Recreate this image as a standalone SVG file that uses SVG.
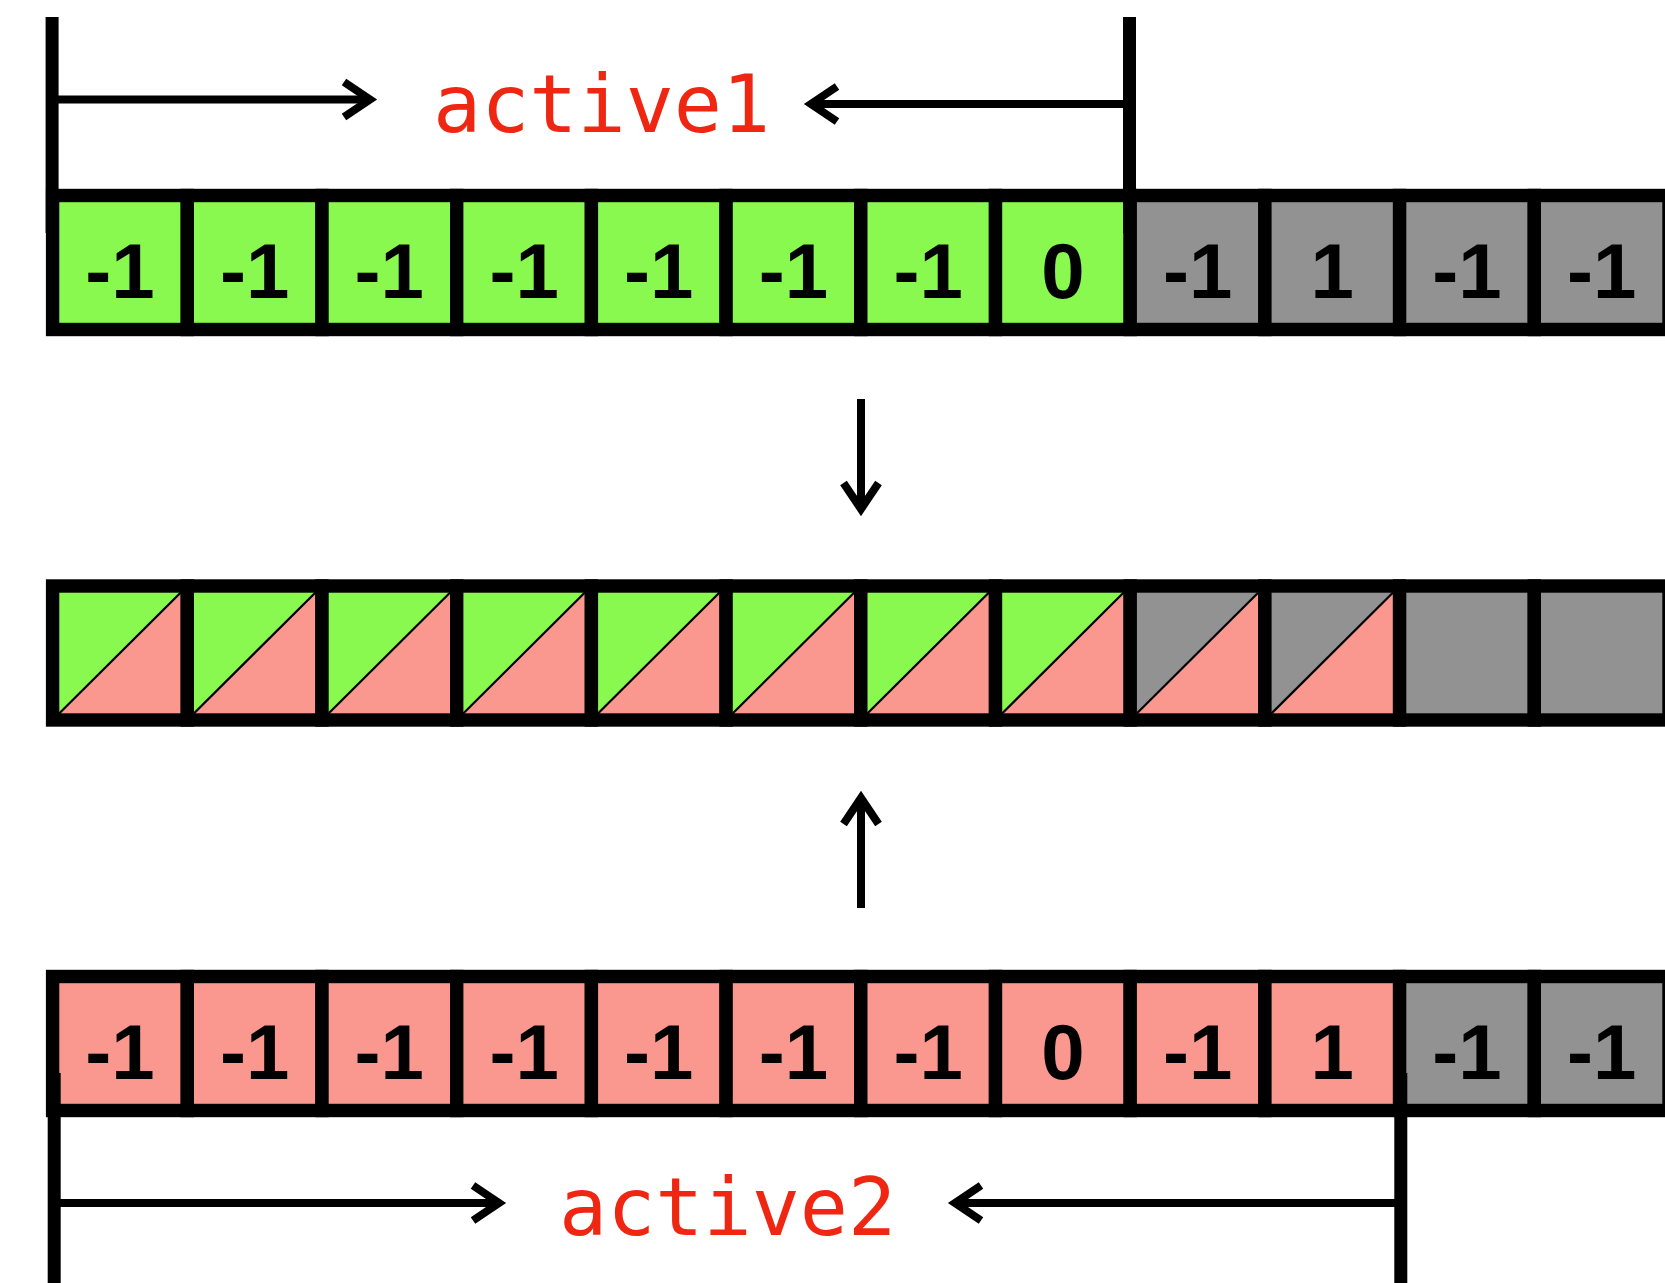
<svg xmlns="http://www.w3.org/2000/svg" width="1665" height="1283" viewBox="0 0 1665 1283">
<defs>
<style>
.cell{stroke:#000;stroke-width:13.4}
.g{fill:#89F94F}
.p{fill:#FA978E}
.k{fill:#929292}
.num{font-family:Arial,Helvetica,"Liberation Sans",sans-serif;font-weight:bold;font-size:78px;fill:#000;text-anchor:middle}
.lbl{font-family:"DejaVu Sans Mono","Liberation Mono",monospace;font-size:80px;fill:#EE2612}
.diag{stroke:#000;stroke-width:2.2}
.bar{stroke:#000;stroke-width:13;fill:none}
.ln{stroke:#000;stroke-width:8;fill:none}
.hd{stroke:#000;stroke-width:8;fill:none;stroke-linecap:butt;stroke-linejoin:miter}
</style>
</defs>
<rect width="1665" height="1283" fill="#fff"/>

<!-- Row 1 -->
<g id="row1">
<g id="r1c1"><rect class="cell g" x="52.6" y="195.5" width="134.7" height="134"/><text class="num" x="120" y="298">-1</text></g>
<g id="r1c2"><rect class="cell g" x="187.3" y="195.5" width="134.7" height="134"/><text class="num" x="254.7" y="298">-1</text></g>
<g id="r1c3"><rect class="cell g" x="322" y="195.5" width="134.7" height="134"/><text class="num" x="389.3" y="298">-1</text></g>
<g id="r1c4"><rect class="cell g" x="456.7" y="195.5" width="134.7" height="134"/><text class="num" x="524.1" y="298">-1</text></g>
<g id="r1c5"><rect class="cell g" x="591.4" y="195.5" width="134.7" height="134"/><text class="num" x="658.8" y="298">-1</text></g>
<g id="r1c6"><rect class="cell g" x="726.1" y="195.5" width="134.7" height="134"/><text class="num" x="793.4" y="298">-1</text></g>
<g id="r1c7"><rect class="cell g" x="860.8" y="195.5" width="134.7" height="134"/><text class="num" x="928.2" y="298">-1</text></g>
<g id="r1c8"><rect class="cell g" x="995.5" y="195.5" width="134.7" height="134"/><text class="num" x="1062.9" y="298">0</text></g>
<g id="r1c9"><rect class="cell k" x="1130.2" y="195.5" width="134.7" height="134"/><text class="num" x="1197.6" y="298">-1</text></g>
<g id="r1c10"><rect class="cell k" x="1264.9" y="195.5" width="134.7" height="134"/><text class="num" x="1332.2" y="298">1</text></g>
<g id="r1c11"><rect class="cell k" x="1399.6" y="195.5" width="134.7" height="134"/><text class="num" x="1467" y="298">-1</text></g>
<g id="r1c12"><rect class="cell k" x="1534.3" y="195.5" width="134.7" height="134"/><text class="num" x="1601.7" y="298">-1</text></g>
</g>

<!-- Row 2 -->
<g id="row2">
<g id="r2c1"><polygon class="g" points="52.6,586 187.3,586 52.6,720"/><polygon class="p" points="187.3,586 187.3,720 52.6,720"/><line class="diag" x1="52.6" y1="720" x2="187.3" y2="586"/><rect class="cell" fill="none" x="52.6" y="586" width="134.7" height="134"/></g>
<g id="r2c2"><polygon class="g" points="187.3,586 322,586 187.3,720"/><polygon class="p" points="322,586 322,720 187.3,720"/><line class="diag" x1="187.3" y1="720" x2="322" y2="586"/><rect class="cell" fill="none" x="187.3" y="586" width="134.7" height="134"/></g>
<g id="r2c3"><polygon class="g" points="322,586 456.7,586 322,720"/><polygon class="p" points="456.7,586 456.7,720 322,720"/><line class="diag" x1="322" y1="720" x2="456.7" y2="586"/><rect class="cell" fill="none" x="322" y="586" width="134.7" height="134"/></g>
<g id="r2c4"><polygon class="g" points="456.7,586 591.4,586 456.7,720"/><polygon class="p" points="591.4,586 591.4,720 456.7,720"/><line class="diag" x1="456.7" y1="720" x2="591.4" y2="586"/><rect class="cell" fill="none" x="456.7" y="586" width="134.7" height="134"/></g>
<g id="r2c5"><polygon class="g" points="591.4,586 726.1,586 591.4,720"/><polygon class="p" points="726.1,586 726.1,720 591.4,720"/><line class="diag" x1="591.4" y1="720" x2="726.1" y2="586"/><rect class="cell" fill="none" x="591.4" y="586" width="134.7" height="134"/></g>
<g id="r2c6"><polygon class="g" points="726.1,586 860.8,586 726.1,720"/><polygon class="p" points="860.8,586 860.8,720 726.1,720"/><line class="diag" x1="726.1" y1="720" x2="860.8" y2="586"/><rect class="cell" fill="none" x="726.1" y="586" width="134.7" height="134"/></g>
<g id="r2c7"><polygon class="g" points="860.8,586 995.5,586 860.8,720"/><polygon class="p" points="995.5,586 995.5,720 860.8,720"/><line class="diag" x1="860.8" y1="720" x2="995.5" y2="586"/><rect class="cell" fill="none" x="860.8" y="586" width="134.7" height="134"/></g>
<g id="r2c8"><polygon class="g" points="995.5,586 1130.2,586 995.5,720"/><polygon class="p" points="1130.2,586 1130.2,720 995.5,720"/><line class="diag" x1="995.5" y1="720" x2="1130.2" y2="586"/><rect class="cell" fill="none" x="995.5" y="586" width="134.7" height="134"/></g>
<g id="r2c9"><polygon class="k" points="1130.2,586 1264.9,586 1130.2,720"/><polygon class="p" points="1264.9,586 1264.9,720 1130.2,720"/><line class="diag" x1="1130.2" y1="720" x2="1264.9" y2="586"/><rect class="cell" fill="none" x="1130.2" y="586" width="134.7" height="134"/></g>
<g id="r2c10"><polygon class="k" points="1264.9,586 1399.6,586 1264.9,720"/><polygon class="p" points="1399.6,586 1399.6,720 1264.9,720"/><line class="diag" x1="1264.9" y1="720" x2="1399.6" y2="586"/><rect class="cell" fill="none" x="1264.9" y="586" width="134.7" height="134"/></g>
<g id="r2c11"><rect class="cell k" x="1399.6" y="586" width="134.7" height="134"/></g>
<g id="r2c12"><rect class="cell k" x="1534.3" y="586" width="134.7" height="134"/></g>
</g>

<!-- Row 3 -->
<g id="row3">
<g id="r3c1"><rect class="cell p" x="52.6" y="976.5" width="134.7" height="134"/><text class="num" x="120" y="1078.5">-1</text></g>
<g id="r3c2"><rect class="cell p" x="187.3" y="976.5" width="134.7" height="134"/><text class="num" x="254.7" y="1078.5">-1</text></g>
<g id="r3c3"><rect class="cell p" x="322" y="976.5" width="134.7" height="134"/><text class="num" x="389.3" y="1078.5">-1</text></g>
<g id="r3c4"><rect class="cell p" x="456.7" y="976.5" width="134.7" height="134"/><text class="num" x="524.1" y="1078.5">-1</text></g>
<g id="r3c5"><rect class="cell p" x="591.4" y="976.5" width="134.7" height="134"/><text class="num" x="658.8" y="1078.5">-1</text></g>
<g id="r3c6"><rect class="cell p" x="726.1" y="976.5" width="134.7" height="134"/><text class="num" x="793.4" y="1078.5">-1</text></g>
<g id="r3c7"><rect class="cell p" x="860.8" y="976.5" width="134.7" height="134"/><text class="num" x="928.2" y="1078.5">-1</text></g>
<g id="r3c8"><rect class="cell p" x="995.5" y="976.5" width="134.7" height="134"/><text class="num" x="1062.9" y="1078.5">0</text></g>
<g id="r3c9"><rect class="cell p" x="1130.2" y="976.5" width="134.7" height="134"/><text class="num" x="1197.6" y="1078.5">-1</text></g>
<g id="r3c10"><rect class="cell p" x="1264.9" y="976.5" width="134.7" height="134"/><text class="num" x="1332.2" y="1078.5">1</text></g>
<g id="r3c11"><rect class="cell k" x="1399.6" y="976.5" width="134.7" height="134"/><text class="num" x="1467" y="1078.5">-1</text></g>
<g id="r3c12"><rect class="cell k" x="1534.3" y="976.5" width="134.7" height="134"/><text class="num" x="1601.7" y="1078.5">-1</text></g>
</g>

<!-- Labels -->
<g id="label-active1"><text class="lbl" x="433" y="131.5">active1</text></g>
<g id="label-active2"><text class="lbl" x="559" y="1235">active2</text></g>

<!-- Connectors -->
<g id="connectors">
<line class="bar" x1="52.1" y1="17" x2="52.1" y2="233"/>
<line class="bar" x1="1129.5" y1="17" x2="1129.5" y2="233"/>
<line class="ln" x1="58" y1="99.5" x2="369" y2="99.5"/>
<polyline class="hd" points="344,82 370,99.5 344,117"/>
<line class="ln" x1="1123" y1="104" x2="812" y2="104"/>
<polyline class="hd" points="837,86.5 811,104 837,121.5"/>

<line class="ln" x1="861" y1="399" x2="861" y2="508"/>
<polyline class="hd" points="843.5,483 861,509 878.5,483"/>
<line class="ln" x1="861" y1="908" x2="861" y2="799"/>
<polyline class="hd" points="843.5,824 861,798 878.5,824"/>

<line class="bar" x1="54.2" y1="1073" x2="54.2" y2="1283"/>
<line class="bar" x1="1400.8" y1="1073" x2="1400.8" y2="1283"/>
<line class="ln" x1="60" y1="1203" x2="498" y2="1203"/>
<polyline class="hd" points="473,1185.5 499,1203 473,1220.5"/>
<line class="ln" x1="1395" y1="1203" x2="956" y2="1203"/>
<polyline class="hd" points="981,1185.5 955,1203 981,1220.5"/>
</g>
</svg>
